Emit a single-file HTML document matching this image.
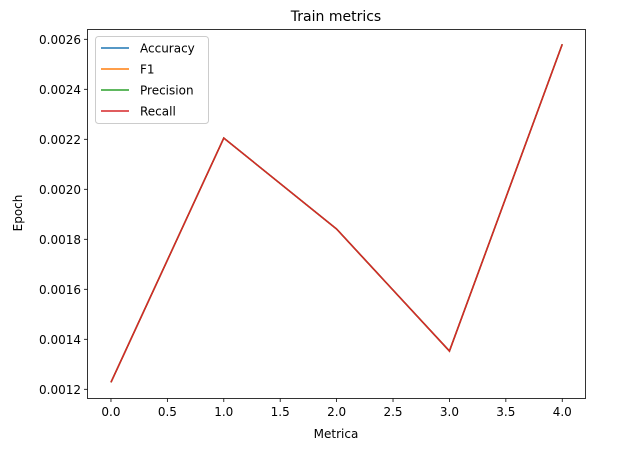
<!DOCTYPE html>
<html><head><meta charset="utf-8"><style>
body{margin:0;background:#fff;}
svg{display:block;font-family:"DejaVu Sans","Liberation Sans",sans-serif;}
</style></head><body>
<svg id="chart" width="627" height="456">
<rect x="0" y="0" width="627" height="456" fill="#fff"/>
<text x="336" y="21" font-size="14" text-anchor="middle">Train metrics</text>
<g id="axes"></g>
<g id="lines"></g>
<rect x="87.5" y="29.5" width="498" height="369" fill="none" stroke="#000" stroke-width="0.8"/>
<text x="336" y="438" font-size="12" text-anchor="middle">Metrica</text>
<text transform="translate(22,213) rotate(-90)" font-size="12" text-anchor="middle">Epoch</text>
<g id="legend"></g>
</svg>
<script>
const epochs = [0, 1, 2, 3, 4];
const accuracy = [0.001228, 0.002205, 0.001841, 0.001353, 0.00258];
const f1 = [0.001228, 0.002205, 0.001841, 0.001353, 0.00258];
const precision = [0.001228, 0.002205, 0.001841, 0.001353, 0.00258];
const recall = [0.001228, 0.002205, 0.001841, 0.001353, 0.00258];
const xTicks = [0, 0.5, 1, 1.5, 2, 2.5, 3, 3.5, 4];
const xTickLabels = ["0.0","0.5","1.0","1.5","2.0","2.5","3.0","3.5","4.0"];
const yTicks = [0.0012, 0.0014, 0.0016, 0.0018, 0.0020, 0.0022, 0.0024, 0.0026];
const yTickLabels = ["0.0012","0.0014","0.0016","0.0018","0.0020","0.0022","0.0024","0.0026"];
const seriesNames = ["Accuracy","F1","Precision","Recall"];

const NS="http://www.w3.org/2000/svg";
const X0=87.5,X1=585.5,Y0=398.5,Y1=29.5;
const xmin=-0.208,xmax=4.206,ymin=0.0011632,ymax=0.0026392;
const sx=v=>X0+(v-xmin)/(xmax-xmin)*(X1-X0);
const sy=v=>Y0-(v-ymin)/(ymax-ymin)*(Y0-Y1);
function mk(t,a,p){const e=document.createElementNS(NS,t);for(const k in a)e.setAttribute(k,a[k]);p.appendChild(e);return e;}
const axes=document.getElementById('axes');
xTicks.forEach((v,i)=>{
  const x=sx(v);
  const l=mk('line',{x1:x,x2:x,y1:398.5,y2:402,stroke:'#000','stroke-width':0.8},axes);
  
  
  const t=mk('text',{x:x,y:416,'font-size':12,'text-anchor':'middle'},axes);
  t.textContent=xTickLabels[i];
  
  
});
yTicks.forEach((v,i)=>{
  const y=sy(v);
  const l=mk('line',{x1:84,x2:87.5,y1:y,y2:y,stroke:'#000','stroke-width':0.8},axes);
  
  
  const t=mk('text',{x:81,y:y+4.5,'font-size':12,'text-anchor':'end'},axes);
  t.textContent=yTickLabels[i];
  
  
});
const colors=['#1f77b4','#ff7f0e','#2ca02c','#d62728'];
const all=[accuracy,f1,precision,recall];
const lines=document.getElementById('lines');
all.forEach((s,k)=>{
  const pts=s.map((v,i)=>sx(epochs[i])+','+sy(v)).join(' ');
  const p=mk('polyline',{points:pts,fill:'none',stroke:colors[k],'stroke-width':1.5},lines);
  
  
});
const lg=document.getElementById('legend');
mk('rect',{x:95.5,y:36.5,width:113,height:87,rx:3,fill:'#fff','fill-opacity':0.8,stroke:'#ccc'},lg);
seriesNames.forEach((n,k)=>{
  const y=48+k*21;
  const l=mk('line',{x1:101,x2:129,y1:y,y2:y,stroke:colors[k],'stroke-width':1.5},lg);
  
  
  const t=mk('text',{x:140,y:y+4.5,'font-size':12},lg);
  t.textContent=n;
  
  
});
</script>
</body></html>
